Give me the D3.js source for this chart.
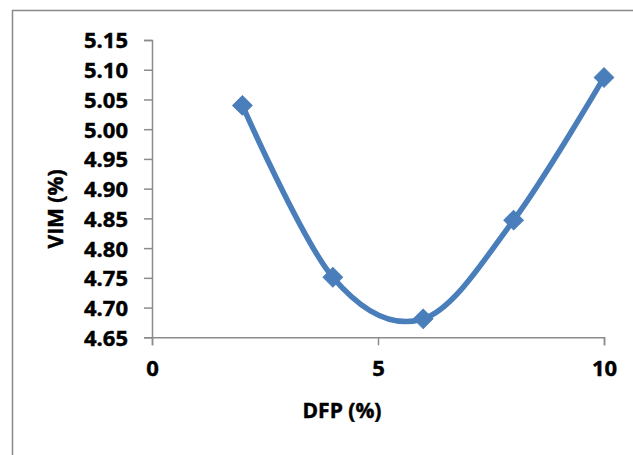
<!DOCTYPE html>
<html>
<head>
<meta charset="utf-8">
<script src="https://cdn.jsdelivr.net/npm/d3@7"></script>
<style>
  body { margin: 0; background: #fff; }
  svg { display: block; }
  .tick text, .label { font-family: 'Open Sans', sans-serif; font-weight: bold; fill: #000; stroke: #000; stroke-width: 0.45px; }
</style>
</head>
<body>
<div id="chart"></div>
<script>
// data
var dfp = [2, 4, 6, 8, 10];
var vim = [5.040, 4.751, 4.681, 4.847, 5.087];
var xTicks = [0, 5, 10];
var yTicks = [4.65, 4.70, 4.75, 4.80, 4.85, 4.90, 4.95, 5.00, 5.05, 5.10, 5.15];

var width = 633, height = 455;
var margin = {top: 40, right: 29, bottom: 118, left: 152};

var svg = d3.select("#chart").append("svg")
	.attr("width", width)
	.attr("height", height);

// chart frame (only top and left edges fall inside the picture)
svg.append("rect")
	.attr("x", 12.5).attr("y", 10.5)
	.attr("width", 640).attr("height", 460)
	.attr("fill", "#fff")
	.attr("stroke", "#898989")
	.attr("stroke-width", 1.5);

var x = d3.scaleLinear().domain([0, 10]).range([margin.left, width - margin.right]);
var y = d3.scaleLinear().domain([4.65, 5.15]).range([height - margin.bottom + 0.3, margin.top]);

var axisColor = "#8c8c8c";

// y axis
var gy = svg.append("g")
	.attr("transform", "translate(" + x(0) + ",0)")
	.call(d3.axisLeft(y).tickValues(yTicks).tickSize(8).tickPadding(16)
		.tickFormat(d3.format(".2f")));
gy.select(".domain").attr("stroke", axisColor).attr("stroke-width", 1.5);
gy.selectAll(".tick line").attr("stroke", axisColor).attr("stroke-width", 1.5);
gy.selectAll(".tick text").attr("font-size", "22px").attr("dy", "0.36em");

// x axis
var gx = svg.append("g")
	.attr("transform", "translate(0," + y(4.65) + ")")
	.call(d3.axisBottom(x).tickValues(xTicks).tickSize(8).tickPadding(15));
gx.select(".domain").attr("stroke", axisColor).attr("stroke-width", 1.5);
gx.selectAll(".tick line").attr("stroke", axisColor).attr("stroke-width", 1.5);
gx.selectAll(".tick text").attr("font-size", "22px");

// axis titles
svg.append("text")
	.attr("class", "label")
	.attr("x", 342).attr("y", 418)
	.attr("text-anchor", "middle")
	.attr("font-size", "21px")
	.text("DFP (%)");

svg.append("text")
	.attr("class", "label")
	.attr("transform", "translate(63,209) rotate(-90)")
	.attr("text-anchor", "middle")
	.attr("font-size", "21px")
	.text("VIM (%)");

// smoothed line
var points = dfp.map(function(d, i) { return [d, vim[i]]; });
var line = d3.line()
	.x(function(d) { return x(d[0]); })
	.y(function(d) { return y(d[1]); })
	.curve(d3.curveCardinal.tension(0));

svg.append("path")
	.datum(points)
	.attr("d", line)
	.attr("fill", "none")
	.attr("stroke", "#4a7ebb")
	.attr("stroke-width", 5.5);

// diamond markers
var diamond = d3.symbol().type(d3.symbolSquare).size(190);
svg.selectAll(".marker")
	.data(points)
	.enter().append("path")
	.attr("class", "marker")
	.attr("d", diamond)
	.attr("transform", function(d) { return "translate(" + x(d[0]) + "," + y(d[1]) + ") rotate(45)"; })
	.attr("fill", "#4a7ebb")
	.attr("stroke", "#4a7ebb")
	.attr("stroke-width", 1);
</script>
</body>
</html>
